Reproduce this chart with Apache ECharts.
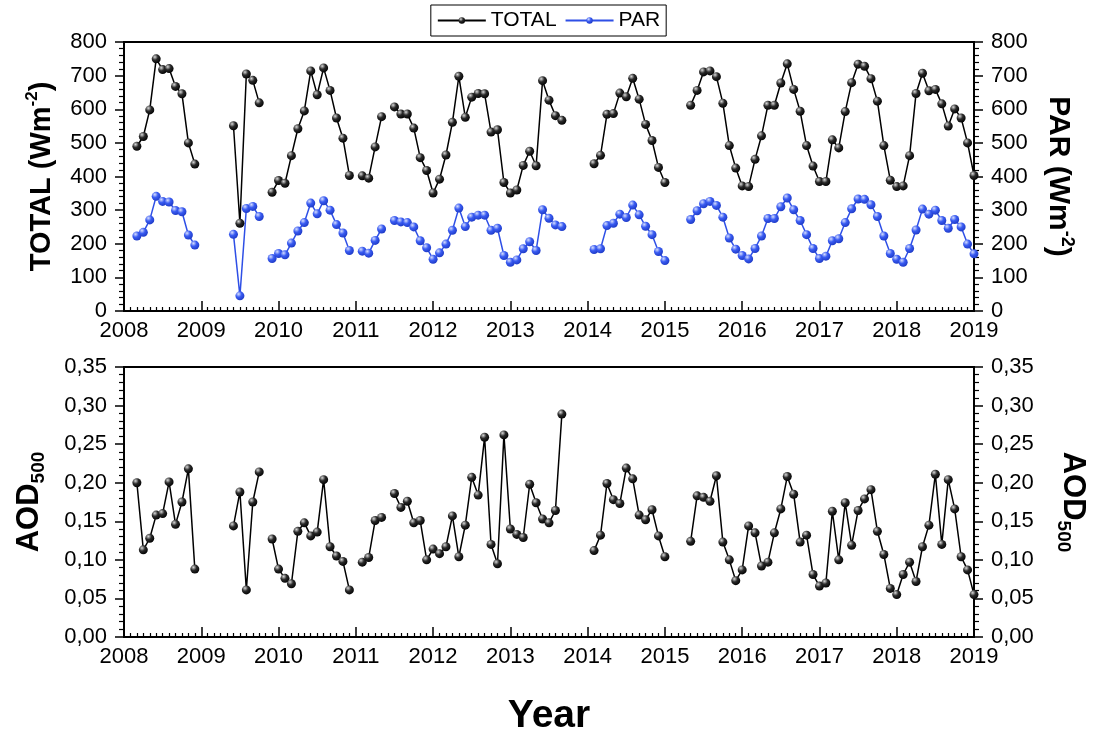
<!DOCTYPE html>
<html>
<head>
<meta charset="utf-8">
<title>TOTAL, PAR and AOD500 2008-2019</title>
<script src="https://cdn.jsdelivr.net/npm/echarts@6/dist/echarts.min.js"></script>
<style>
    html, body { margin: 0; padding: 0; background: #fff; }
    #chart { width: 1097px; height: 729px; }
</style>
</head>
<body>
<div id="chart"></div>
<script>
// monthly means, one row per year (Jan..Dec), first value = Jan 2008, null = no data
const startYear = 2008;

const total = [
    null, null, 490, 519, 598, 750, 718, 721, 668, 646, 500, 437,
    null, null, null, null, null, 551, 261, 705, 686, 619, null, 353,
    388, 380, 462, 542, 595, 714, 643, 723, 656, 574, 514, 403,
    null, 402, 395, 488, 578, null, 607, 586, 586, 544, 456, 418,
    351, 392, 464, 561, 698, 576, 636, 647, 646, 532, 539, 382,
    351, 360, 433, 475, 432, 685, 627, 581, 567, null, null, null,
    null, 438, 463, 585, 587, 648, 637, 692, 630, 555, 507, 427,
    382, null, null, null, 612, 656, 711, 714, 697, 618, 492, 425,
    372, 370, 451, 521, 612, 612, 678, 735, 659, 594, 492, 431,
    385, 385, 509, 485, 593, 679, 734, 728, 691, 624, 492, 389,
    370, 372, 462, 647, 707, 655, 659, 616, 550, 601, 574, 500,
    403
];

const par = [
    null, null, 223, 234, 271, 341, 326, 324, 299, 295, 226, 196,
    null, null, null, null, null, 228, 45, 305, 311, 281, null, 156,
    171, 167, 202, 238, 263, 321, 289, 328, 300, 257, 232, 180,
    null, 178, 172, 210, 244, null, 269, 265, 263, 250, 209, 188,
    154, 173, 199, 240, 306, 251, 279, 285, 285, 240, 246, 165,
    145, 152, 185, 206, 180, 301, 276, 256, 251, null, null, null,
    null, 183, 185, 254, 261, 288, 278, 315, 286, 252, 227, 177,
    150, null, null, null, 272, 298, 319, 326, 314, 279, 217, 184,
    165, 155, 186, 223, 275, 275, 310, 336, 301, 269, 227, 186,
    156, 163, 209, 215, 263, 304, 333, 332, 316, 281, 223, 171,
    154, 145, 186, 241, 303, 288, 300, 269, 246, 272, 250, 199,
    170
];

const aod = [
    null, null, 0.200, 0.113, 0.128, 0.158, 0.160, 0.201, 0.146, 0.175, 0.218, 0.088,
    null, null, null, null, null, 0.144, 0.188, 0.061, 0.175, 0.214, null, 0.127,
    0.088, 0.076, 0.069, 0.137, 0.148, 0.131, 0.136, 0.204, 0.117, 0.105, 0.098, 0.061,
    null, 0.097, 0.103, 0.151, 0.155, null, 0.186, 0.168, 0.176, 0.148, 0.151, 0.100,
    0.114, 0.108, 0.117, 0.157, 0.104, 0.145, 0.207, 0.184, 0.259, 0.120, 0.095, 0.262,
    0.140, 0.133, 0.129, 0.198, 0.174, 0.153, 0.148, 0.164, 0.289, null, null, null,
    null, 0.112, 0.132, 0.199, 0.178, 0.173, 0.219, 0.205, 0.158, 0.152, 0.165, 0.131,
    0.104, null, null, null, 0.124, 0.183, 0.181, 0.176, 0.209, 0.123, 0.100, 0.073,
    0.087, 0.144, 0.135, 0.092, 0.097, 0.135, 0.166, 0.208, 0.185, 0.123, 0.132, 0.081,
    0.066, 0.070, 0.163, 0.100, 0.174, 0.119, 0.164, 0.179, 0.191, 0.137, 0.107, 0.063,
    0.055, 0.081, 0.097, 0.072, 0.117, 0.145, 0.211, 0.120, 0.204, 0.166, 0.104, 0.087,
    0.055
];

const font = '"Liberation Sans", Arial, sans-serif';

function toPairs(values) {
    return values.map(function(v, i) {
        return [startYear + i / 12, v === null ? '-' : v];
    });
}

// shaded ball look of the markers
function ball(light, mid, dark) {
    return new echarts.graphic.RadialGradient(0.35, 0.3, 0.75, [
        { offset: 0, color: light },
        { offset: 0.45, color: mid },
        { offset: 1, color: dark }
    ]);
}

const axisLine = { show: true, lineStyle: { color: '#000', width: 2 } };
const tickStyle = { color: '#000', width: 1.5 };
const labelStyle = { color: '#000', fontSize: 22, fontFamily: font };

function nameStyle(size, subSize) {
    return {
        color: '#000', fontSize: size, fontWeight: 'bold', fontFamily: font, lineHeight: size + 6,
        rich: {
            sup: { fontSize: subSize, fontWeight: 'bold', fontFamily: font, color: '#000', verticalAlign: 'top', lineHeight: subSize },
            sub: { fontSize: subSize, fontWeight: 'bold', fontFamily: font, color: '#000', verticalAlign: 'bottom', lineHeight: subSize }
        }
    };
}

function yearAxis(gridIndex, extra) {
    return Object.assign({
        type: 'value', gridIndex: gridIndex,
        min: 2008, max: 2019, interval: 1,
        axisLine: axisLine,
        axisTick: { inside: true, length: 10, lineStyle: tickStyle },
        minorTick: { show: true, splitNumber: 12, length: 4, lineStyle: { color: '#000', width: 1.2 } },
        axisLabel: Object.assign({ margin: 9, formatter: function(v) { return String(v); } }, labelStyle),
        splitLine: { show: false }
    }, extra || {});
}

function valueAxis(gridIndex, position, max, interval, name, rotate, gap, nameTs, fmt) {
    return {
        type: 'value', gridIndex: gridIndex, position: position,
        min: 0, max: max, interval: interval,
        name: name, nameLocation: 'middle', nameRotate: rotate, nameGap: gap,
        nameTextStyle: nameTs,
        axisLine: axisLine,
        axisTick: { inside: false, length: 9, lineStyle: tickStyle },
        minorTick: { show: true, splitNumber: 5, length: 5, lineStyle: { color: '#000', width: 1.2 } },
        axisLabel: Object.assign({ margin: 17, formatter: fmt }, labelStyle),
        splitLine: { show: false }
    };
}

const chart = echarts.init(document.getElementById('chart'));

const wattFmt = function(v) { return String(v); };
const aodFmt = function(v) { return v.toFixed(2).replace('.', ','); };

chart.setOption({
    animation: false,
    backgroundColor: '#fff',
    legend: {
        top: 5, left: 'center',
        data: ['TOTAL', 'PAR'],
        borderColor: '#000', borderWidth: 1,
        padding: [5, 6], itemGap: 8, itemWidth: 48, itemHeight: 8,
        textStyle: { color: '#000', fontSize: 21, fontFamily: font }
    },
    grid: [
        { left: 124, right: 123, top: 42, height: 269, show: true, borderColor: '#000', borderWidth: 2, outerBoundsMode: 'none' },
        { left: 124, right: 123, top: 367, height: 270, show: true, borderColor: '#000', borderWidth: 2, outerBoundsMode: 'none' }
    ],
    xAxis: [
        yearAxis(0),
        yearAxis(1, {
            name: 'Year', nameLocation: 'middle', nameGap: 60,
            nameTextStyle: { color: '#000', fontSize: 39, fontWeight: 'bold', fontFamily: font }
        })
    ],
    yAxis: [
        valueAxis(0, 'left', 800, 100, 'TOTAL (Wm{sup|-2})', 90, 65, nameStyle(29, 17), wattFmt),
        valueAxis(0, 'right', 800, 100, 'PAR (Wm{sup|-2})', -90, 66, nameStyle(30, 18), wattFmt),
        valueAxis(1, 'left', 0.35, 0.05, 'AOD{sub|500}', 90, 76, nameStyle(31, 19), aodFmt),
        valueAxis(1, 'right', 0.35, 0.05, 'AOD{sub|500}', -90, 80, nameStyle(31, 19), aodFmt)
    ],
    series: [
        {
            name: 'TOTAL', type: 'line', xAxisIndex: 0, yAxisIndex: 0,
            data: toPairs(total), connectNulls: false,
            symbol: 'circle', symbolSize: 9, showAllSymbol: true,
            lineStyle: { color: '#000', width: 1.5 },
            itemStyle: { color: ball('#d8d8d8', '#2a2a2a', '#000') }
        },
        {
            name: 'PAR', type: 'line', xAxisIndex: 0, yAxisIndex: 1,
            data: toPairs(par), connectNulls: false,
            symbol: 'circle', symbolSize: 9, showAllSymbol: true,
            lineStyle: { color: '#2e4fe6', width: 1.5 },
            itemStyle: { color: ball('#d6defe', '#3a5cf2', '#1c38c4') }
        },
        {
            name: 'AOD500', type: 'line', xAxisIndex: 1, yAxisIndex: 2,
            data: toPairs(aod), connectNulls: false,
            symbol: 'circle', symbolSize: 9, showAllSymbol: true,
            lineStyle: { color: '#000', width: 1.5 },
            itemStyle: { color: ball('#d8d8d8', '#2a2a2a', '#000') }
        }
    ]
});
</script>
</body>
</html>
